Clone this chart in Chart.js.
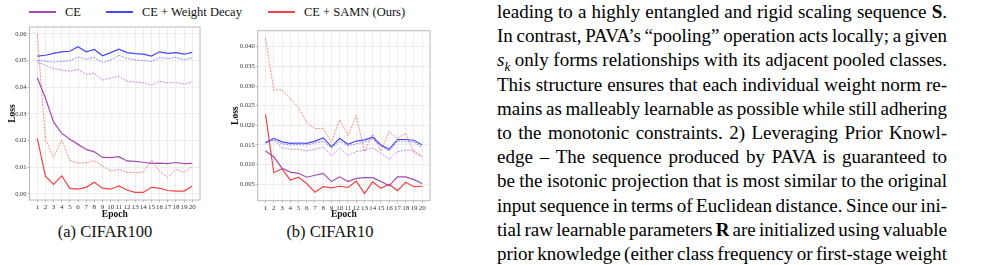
<!DOCTYPE html>
<html lang="en">
<head>
<meta charset="UTF-8">
<title>Loss curves</title>
<script src="https://cdn.jsdelivr.net/npm/chart.js"></script>
<style>
  body { margin: 0; background: #fff; width: 981px; height: 265px; overflow: hidden; position: relative; font-family: 'Liberation Serif', 'Times New Roman', Times, 'DejaVu Serif', serif; }
  canvas { position: absolute; }
  .leg { position: absolute; top: 3px; height: 18px; line-height: 18px; font-size: 12.5px; color: #111; }
  .leg span.ln { position: absolute; top: 8px; width: 27px; height: 2px; }
  .cap { position: absolute; top: 222px; font-size: 16.5px; color: #111; white-space: nowrap; transform: translateX(-50%); }
  #text { position: absolute; left: 497px; top: 0; width: 450px; font-size: 19px; color: #000; }
  #text div { height: 24.2px; line-height: 24.2px; white-space: nowrap; }
</style>
</head>
<body>
  <div class="leg" style="left:29px"><span class="ln" style="left:0;background:#a24cb0"></span><span style="position:absolute;left:36px">CE</span></div>
  <div class="leg" style="left:106px"><span class="ln" style="left:0;background:#4848f2"></span><span style="position:absolute;left:36px;white-space:nowrap">CE + Weight Decay</span></div>
  <div class="leg" style="left:268px"><span class="ln" style="left:0;background:#f04545"></span><span style="position:absolute;left:36px;white-space:nowrap">CE + SAMN (Ours)</span></div>

  <canvas id="chartA" width="204" height="200" style="left:0;top:20px"></canvas>
  <canvas id="chartB" width="206" height="200" style="left:228px;top:20px"></canvas>

  <div class="cap" style="left:105px">(a) CIFAR100</div>
  <div class="cap" style="left:330px">(b) CIFAR10</div>

  <div id="text">
    <div>leading to a highly entangled and rigid scaling sequence <b>S</b>.</div>
    <div>In contrast, PAVA’s “pooling” operation acts locally; a given</div>
    <div><i>s<sub style="font-size:13px">k</sub></i> only forms relationships with its adjacent pooled classes.</div>
    <div>This structure ensures that each individual weight norm re-</div>
    <div>mains as malleably learnable as possible while still adhering</div>
    <div>to the monotonic constraints. 2) Leveraging Prior Knowl-</div>
    <div>edge – The sequence produced by PAVA is guaranteed to</div>
    <div>be the isotonic projection that is most similar to the original</div>
    <div>input sequence in terms of Euclidean distance. Since our ini-</div>
    <div>tial raw learnable parameters <b>R</b> are initialized using valuable</div>
    <div>prior knowledge (either class frequency or first-stage weight</div>
  </div>

<script>
  // epochs and y ticks
  const epochs = [1,2,3,4,5,6,7,8,9,10,11,12,13,14,15,16,17,18,19,20];
  const ticksA = [0.00, 0.01, 0.02, 0.03, 0.04, 0.05, 0.06];
  const ticksB = [0.005, 0.010, 0.015, 0.020, 0.025, 0.030, 0.035, 0.040];

  // (a) CIFAR100
  const a_ce       = [0.0436,0.036,0.027,0.0227,0.0205,0.0186,0.0167,0.0158,0.0137,0.0136,0.014,0.0124,0.0122,0.0119,0.0115,0.0116,0.0114,0.0118,0.0114,0.0115];
  const a_ce_d     = [0.0494,0.0483,0.047,0.0465,0.046,0.0467,0.0449,0.0452,0.0427,0.0435,0.0441,0.0423,0.042,0.0417,0.0408,0.0423,0.0416,0.0418,0.0412,0.042];
  const a_wd       = [0.0517,0.052,0.0527,0.0533,0.0535,0.0552,0.0533,0.0542,0.0518,0.053,0.0543,0.053,0.0526,0.0524,0.0517,0.0533,0.0527,0.053,0.0524,0.0531];
  const a_wd_d     = [0.0501,0.0498,0.0494,0.0497,0.05,0.0514,0.0505,0.0512,0.0492,0.0502,0.052,0.0508,0.0503,0.05,0.0497,0.0511,0.0508,0.0512,0.0503,0.051];
  const a_samn     = [0.0209,0.0067,0.0036,0.0068,0.0021,0.0018,0.0025,0.0044,0.0022,0.0018,0.003,0.0015,0.0006,0.0006,0.0025,0.0022,0.0013,0.0011,0.0011,0.003];
  const a_samn_d   = [0.06,0.0205,0.0137,0.0202,0.0127,0.0115,0.0117,0.0125,0.0105,0.0086,0.0092,0.0081,0.008,0.0082,0.0127,0.0084,0.0062,0.0092,0.0081,0.0105];

  // (b) CIFAR10
  const b_ce       = [0.0135,0.012,0.0091,0.0081,0.0078,0.0068,0.0073,0.0078,0.0057,0.0069,0.0057,0.0065,0.0067,0.0067,0.0057,0.0046,0.0069,0.0069,0.0062,0.0052];
  const b_ce_d     = [0.0155,0.0163,0.0143,0.0139,0.0139,0.0135,0.0139,0.0145,0.0123,0.0142,0.0123,0.0133,0.0137,0.0142,0.0129,0.0114,0.0133,0.0137,0.0135,0.0122];
  const b_wd       = [0.0156,0.0167,0.0158,0.0154,0.0155,0.0154,0.016,0.0168,0.0146,0.0167,0.0152,0.016,0.0163,0.017,0.015,0.0139,0.0164,0.0164,0.0162,0.015];
  const b_wd_d     = [0.0155,0.0163,0.0153,0.015,0.0151,0.015,0.0155,0.016,0.0142,0.016,0.0148,0.0153,0.0158,0.0165,0.0147,0.0135,0.016,0.016,0.0157,0.0143];
  const b_samn     = [0.0228,0.008,0.0089,0.0061,0.0068,0.0052,0.003,0.0044,0.0041,0.0045,0.0042,0.0058,0.0027,0.0056,0.004,0.005,0.0034,0.0055,0.0044,0.0045];
  const b_samn_d   = [0.0421,0.029,0.029,0.0268,0.0245,0.0208,0.0192,0.0192,0.0157,0.0214,0.0174,0.0225,0.0133,0.0178,0.0135,0.0184,0.0166,0.018,0.013,0.012];

  const PURPLE = '#a24cb0', BLUE = '#4848f2', RED = '#f04545';
  const SERIF = "'Liberation Serif', 'Times New Roman', Times, 'DejaVu Serif', serif";

  const line = (vals, color, dashed) => ({
    data: vals.map((v, i) => ({ x: epochs[i], y: v })),
    borderColor: dashed ? color + 'b0' : color,
    borderWidth: dashed ? 0.9 : 1.2,
    borderDash: dashed ? [2, 1.2] : [],
    pointRadius: 0,
    tension: 0,
    fill: false
  });

  // panel border like ggplot
  const frame = {
    id: 'frame',
    afterDraw(chart) {
      const a = chart.chartArea, c = chart.ctx;
      c.save();
      c.strokeStyle = '#b8b8b8';
      c.lineWidth = 1;
      c.strokeRect(a.left, a.top, a.right - a.left, a.bottom - a.top);
      c.restore();
    }
  };

  function makeChart(id, sets, yMin, yMax, yTicks, dec, pad, yWidth, xHeight, titlePad) {
    return new Chart(document.getElementById(id), {
      type: 'line',
      data: { datasets: sets },
      plugins: [frame],
      options: {
        responsive: false,
        animation: false,
        layout: { padding: pad },
        plugins: { legend: { display: false }, tooltip: { enabled: false } },
        scales: {
          x: {
            type: 'linear', min: 0.05, max: 20.95,
            afterBuildTicks: s => { s.ticks = epochs.map(v => ({ value: v })); },
            afterFit: s => { s.height = xHeight; },
            grid: { color: '#e6e6e6', lineWidth: 0.7, tickLength: 2, tickColor: '#999' },
            border: { display: false },
            ticks: { autoSkip: false, maxRotation: 0, padding: 1, color: '#333',
                     font: { family: SERIF, size: 7 } },
            title: { display: true, text: 'Epoch', color: '#111', padding: 0,
                     font: { family: SERIF, size: 9.5, weight: 'bold' } }
          },
          y: {
            min: yMin, max: yMax,
            afterBuildTicks: s => { s.ticks = yTicks.map(v => ({ value: v })); },
            afterFit: s => { s.width = yWidth; },
            grid: { color: '#e6e6e6', lineWidth: 0.7, tickLength: 2, tickColor: '#999' },
            border: { display: false },
            ticks: { padding: 1, color: '#333', callback: v => v.toFixed(dec),
                     font: { family: SERIF, size: 6.5 } },
            title: { display: true, text: 'Loss', color: '#111', padding: { top: titlePad, bottom: 0 },
                     font: { family: SERIF, size: 9.5, weight: 'bold' } }
          }
        }
      }
    });
  }

  makeChart('chartA', [
    line(a_ce, PURPLE, false), line(a_ce_d, PURPLE, true),
    line(a_wd, BLUE, false), line(a_wd_d, BLUE, true),
    line(a_samn, RED, false), line(a_samn_d, RED, true)
  ], -0.00225, 0.0626, ticksA, 2, { left: 0, right: 4, top: 7, bottom: 0 }, 29.5, 20, 7);

  makeChart('chartB', [
    line(b_ce, PURPLE, false), line(b_ce_d, PURPLE, true),
    line(b_wd, BLUE, false), line(b_wd_d, BLUE, true),
    line(b_samn, RED, false), line(b_samn_d, RED, true)
  ], 0.00083, 0.04407, ticksB, 3, { left: 0, right: 4, top: 10.7, bottom: 0 }, 29.7, 19.3, 2);

  // justify every text line to the column width
  document.querySelectorAll('#text div').forEach(d => {
    const r = document.createRange();
    r.selectNodeContents(d);
    const w = r.getBoundingClientRect().width;
    const gaps = (d.textContent.match(/ /g) || []).length;
    if (gaps) d.style.wordSpacing = ((450 - w) / gaps) + 'px';
  });
</script>
</body>
</html>
